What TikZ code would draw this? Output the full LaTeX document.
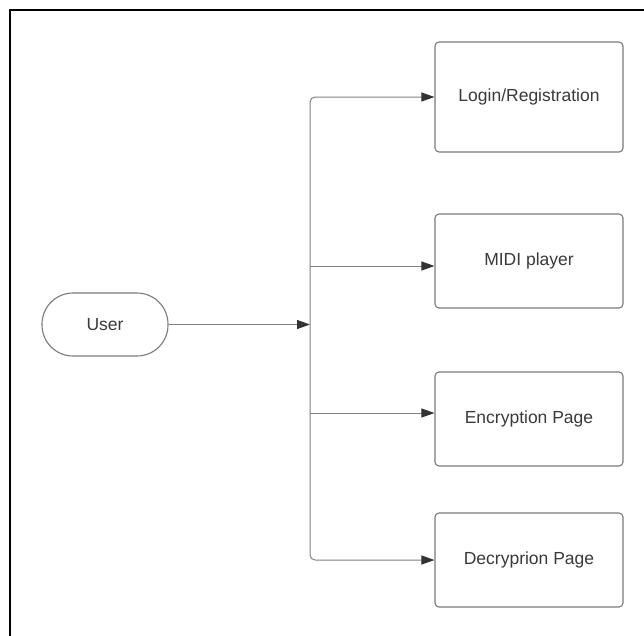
\documentclass[tikz,border=0pt]{standalone}
\usepackage{fontspec}
\setmainfont{Liberation Sans}
\usetikzlibrary{arrows.meta}
\definecolor{linegray}{HTML}{808080}
\definecolor{boxgray}{HTML}{7A7A7A}
\definecolor{txt}{HTML}{3A3A3A}
\definecolor{tipc}{HTML}{333333}
\tikzset{
  pagebox/.style={draw=boxgray, line width=1.1pt, rounded corners=4pt,
    minimum width=188pt, minimum height=94pt, inner sep=0pt,
    text=txt, font=\fontsize{17.5}{20}\selectfont},
  userbox/.style={draw=boxgray, line width=1.1pt, rounded corners=31pt,
    minimum width=126pt, minimum height=63pt, inner sep=0pt,
    text=txt, font=\fontsize{17.5}{20}\selectfont},
  conn/.style={draw=linegray, line width=1pt,
    -{Triangle[length=13pt,width=9pt,color=tipc]}},
}
\begin{document}
\begin{tikzpicture}[x=1pt,y=-1pt]
\useasboundingbox (0,0) rectangle (644,635);
\clip (0,0) rectangle (644,635);
\fill[white] (0,0) rectangle (644,635);
\draw[black, line width=1.6pt] (10,660) -- (10,10) -- (670,10);

\node[userbox] (user) at (105,324.5) {User};
\node[pagebox, minimum height=110pt] (login) at (529,97) {Login/Registration};
\node[pagebox] (midi) at (529,261) {MIDI player};
\node[pagebox] (enc) at (529,419) {Encryption Page};
\node[pagebox] (dec) at (529,560) {Decryprion Page};

\coordinate (j) at (310,324.5);

\draw[conn] (user.east) -- (j);
\draw[conn, rounded corners=5pt] (j) |- (login.west);
\draw[conn, rounded corners=5pt] (j) |- (dec.west);
\draw[conn] (j |- 0,266) -- ([yshift=-5pt]midi.west);
\draw[conn] (j |- 0,413) -- ([yshift=6pt]enc.west);
\end{tikzpicture}
\end{document}
